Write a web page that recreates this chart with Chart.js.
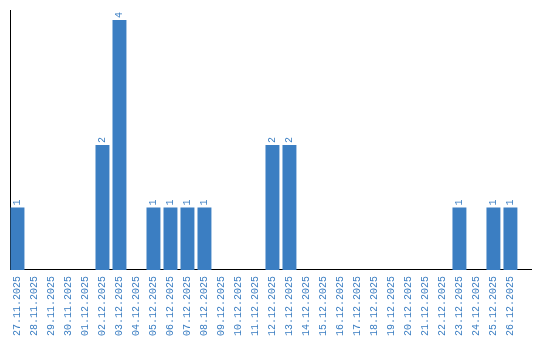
<!DOCTYPE html>
<html>
<head>
<meta charset="utf-8">
<script src="https://cdn.jsdelivr.net/npm/chart.js@4.4.1/dist/chart.umd.min.js"></script>
<style>
html,body{margin:0;padding:0;background:#fff;}
#wrap{width:540px;height:340px;}
</style>
</head>
<body>
<div id="wrap"><canvas id="c" width="540" height="340"></canvas></div>
<script>
const dates = ["27.11.2025","28.11.2025","29.11.2025","30.11.2025","01.12.2025","02.12.2025","03.12.2025","04.12.2025","05.12.2025","06.12.2025","07.12.2025","08.12.2025","09.12.2025","10.12.2025","11.12.2025","12.12.2025","13.12.2025","14.12.2025","15.12.2025","16.12.2025","17.12.2025","18.12.2025","19.12.2025","20.12.2025","21.12.2025","22.12.2025","23.12.2025","24.12.2025","25.12.2025","26.12.2025"];
const counts = [1,0,0,0,0,2,4,0,1,1,1,1,0,0,0,2,2,0,0,0,0,0,0,0,0,0,1,0,1,1];

const BLUE = '#3b7ec2';
const FONT = '10px "Liberation Mono", monospace';

const valueLabels = {
  id: 'valueLabels',
  afterDatasetsDraw(chart) {
    const ctx = chart.ctx;
    const meta = chart.getDatasetMeta(0);
    ctx.save();
    ctx.font = FONT;
    ctx.fillStyle = BLUE;
    ctx.textAlign = 'left';
    ctx.textBaseline = 'middle';
    meta.data.forEach((bar, i) => {
      const v = counts[i];
      if (!v) return;
      ctx.save();
      ctx.translate(bar.x, bar.y - 2);
      ctx.rotate(-Math.PI / 2);
      ctx.fillText(String(v), 0, 0);
      ctx.restore();
    });
    ctx.restore();
  }
};

new Chart(document.getElementById('c'), {
  type: 'bar',
  data: {
    datasets: [{
      data: counts.map((v, i) => ({x: i, y: v})),
      backgroundColor: BLUE,
      borderWidth: 0,
      barPercentage: 0.82,
      categoryPercentage: 1
    }]
  },
  options: {
    responsive: false,
    animation: false,
    layout: {padding: {left: 10, top: 10, right: 9, bottom: -2}},
    plugins: {legend: {display: false}, tooltip: {enabled: false}},
    scales: {
      x: {
        type: 'linear',
        offset: false,
        min: -0.44,
        max: 30.21,
        afterBuildTicks: axis => { axis.ticks = dates.map((_, i) => ({value: i})); },
        afterFit: axis => { axis.paddingLeft = 0; axis.paddingRight = 0; },
        grid: {display: false, drawTicks: false, offset: false},
        border: {display: true, color: '#000', width: 1},
        ticks: {
          autoSkip: false,
          minRotation: 90,
          maxRotation: 90,
          padding: 6,
          color: BLUE,
          font: {family: '"Liberation Mono", monospace', size: 10},
          callback: v => dates[v]
        }
      },
      y: {
        min: 0,
        max: 4.16,
        grid: {display: false, drawTicks: false},
        border: {display: true, color: '#000', width: 1},
        ticks: {display: false}
      }
    }
  },
  plugins: [valueLabels]
});
</script>
</body>
</html>
